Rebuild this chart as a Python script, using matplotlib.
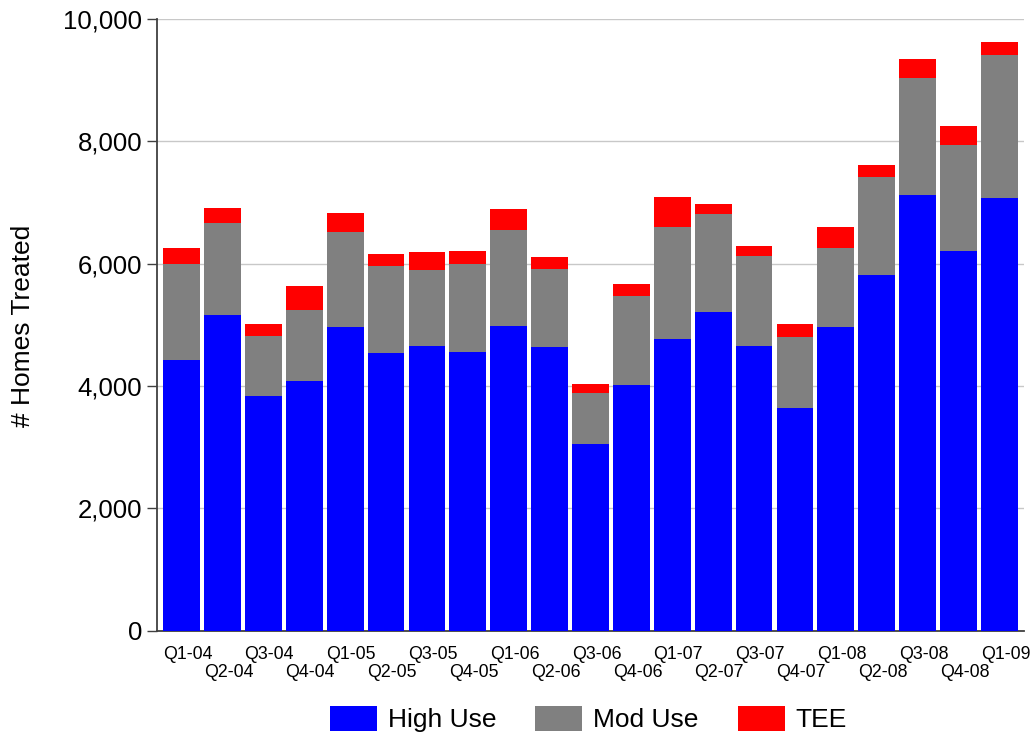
# Stacked bars of homes treated per quarter

import matplotlib
matplotlib.use('Agg')
import matplotlib.pyplot as plt
import matplotlib.transforms as mtransforms
from matplotlib.ticker import FuncFormatter
import numpy as np

plt.rcParams['font.family'] = ['Liberation Sans', 'DejaVu Sans']

quarters = ['Q1-04', 'Q2-04', 'Q3-04', 'Q4-04', 'Q1-05', 'Q2-05', 'Q3-05',
            'Q4-05', 'Q1-06', 'Q2-06', 'Q3-06', 'Q4-06', 'Q1-07', 'Q2-07',
            'Q3-07', 'Q4-07', 'Q1-08', 'Q2-08', 'Q3-08', 'Q4-08', 'Q1-09']
high_use = [4420, 5155, 3832, 4082, 4959, 4539, 4649, 4562, 4980, 4637, 3047,
            4016, 4768, 5209, 4654, 3631, 4964, 5809, 7121, 6201, 7078]
mod_use = [1580, 1504, 985, 1155, 1564, 1422, 1246, 1438, 1576, 1281, 839,
           1455, 1825, 1602, 1477, 1170, 1286, 1606, 1912, 1743, 2330]
tee = [261, 256, 191, 404, 310, 191, 301, 201, 336, 190, 142,
       191, 502, 158, 157, 207, 355, 203, 305, 299, 224]

x = np.arange(len(quarters))
high = np.array(high_use)
mod = np.array(mod_use)

fig = plt.figure(figsize=(10.36, 7.34), dpi=100)
ax = fig.add_axes([0.1513, 0.141, 0.9884 - 0.1513, 0.9741 - 0.141])

w = 0.9
ax.bar(x, high, w, color='#0000ff', label='High Use', zorder=3)
ax.bar(x, mod, w, bottom=high, color='#808080', label='Mod Use', zorder=3)
ax.bar(x, tee, w, bottom=high + mod, color='#ff0000', label='TEE', zorder=3)

ax.set_xlim(-0.606, 20.6)
ax.set_ylim(0, 10000)
ax.set_yticks(np.arange(0, 10001, 2000))
ax.yaxis.set_major_formatter(FuncFormatter(lambda v, p: '{:,.0f}'.format(v)))
ax.yaxis.grid(True, color='#c8c8c8', linewidth=1.0, zorder=0)
ax.set_axisbelow(True)

for s in ['top', 'right']:
    ax.spines[s].set_visible(False)
for s in ['left', 'bottom']:
    ax.spines[s].set_color('#404040')
    ax.spines[s].set_linewidth(1.3)

ax.tick_params(axis='y', direction='out', length=7.5, width=1.0,
               color='#404040', labelsize=18.5, pad=3)

# staggered quarter labels in two rows
ax.set_xticks(x[::2], quarters[::2])
ax.set_xticks(x[1::2], quarters[1::2], minor=True)
ax.tick_params(axis='x', which='major', length=0, labelsize=12.8, pad=11)
ax.tick_params(axis='x', which='minor', length=0, labelsize=12.8, pad=24)
shift = mtransforms.ScaledTranslation(6 / 100, 0, fig.dpi_scale_trans)
for lab in ax.get_xticklabels(which='both'):
    lab.set_transform(lab.get_transform() + shift)

fig.text(23 / 1036, 1 - 326 / 734, '# Homes Treated', rotation=90,
         ha='center', va='center', fontsize=19)

fig.legend(loc='lower center', bbox_to_anchor=(0.568, -0.03), ncol=3,
           frameon=False, fontsize=19, handlelength=1.78, handleheight=1.1,
           handletextpad=0.42, columnspacing=1.48)

fig.savefig('out.png', dpi=100)
